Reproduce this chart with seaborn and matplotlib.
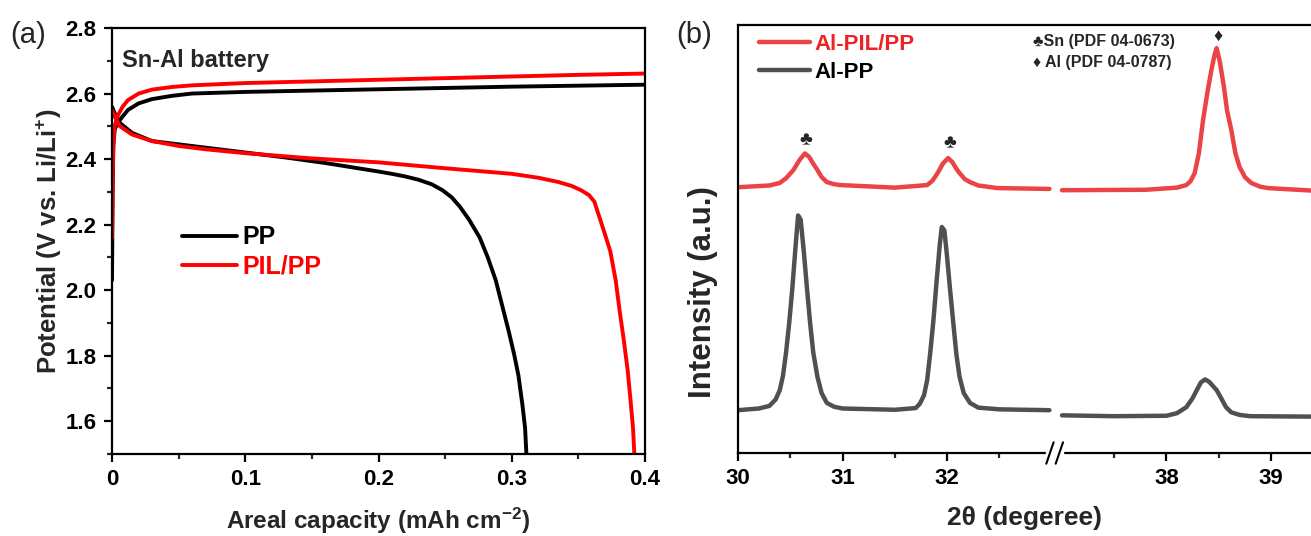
import matplotlib
matplotlib.use('Agg')
import matplotlib.pyplot as plt
import numpy as np
import pandas as pd
import seaborn as sns
from matplotlib.ticker import MultipleLocator, FixedLocator, NullLocator

# ---------------- (a) charge / discharge curves ----------------
cap_pp_charge = [0.0, 0.0005, 0.001, 0.002, 0.004, 0.008, 0.012, 0.02, 0.03, 0.045, 0.06,
                 0.1, 0.15, 0.2, 0.25, 0.3, 0.35, 0.4]
v_pp_charge = [2.03, 2.30, 2.44, 2.49, 2.51, 2.53, 2.55, 2.57, 2.583, 2.593, 2.60,
               2.605, 2.609, 2.613, 2.617, 2.621, 2.624, 2.627]
cap_pp_dis = [0.0, 0.002, 0.006, 0.015, 0.03, 0.05, 0.07, 0.1, 0.13, 0.16, 0.18, 0.2, 0.21,
              0.22, 0.23, 0.24, 0.248, 0.255, 0.261, 0.268, 0.276, 0.282, 0.288, 0.293,
              0.298, 0.302, 0.305, 0.308, 0.31, 0.311]
v_pp_dis = [2.56, 2.54, 2.51, 2.48, 2.455, 2.445, 2.435, 2.42, 2.405, 2.388, 2.375, 2.362, 2.355,
            2.347, 2.337, 2.323, 2.305, 2.283, 2.255, 2.215, 2.16, 2.10, 2.03, 1.95,
            1.87, 1.80, 1.74, 1.65, 1.58, 1.5]

cap_pil_charge = [0.0, 0.0005, 0.001, 0.002, 0.004, 0.008, 0.012, 0.02, 0.03, 0.045, 0.06,
                  0.1, 0.15, 0.2, 0.25, 0.3, 0.35, 0.4]
v_pil_charge = [2.16, 2.35, 2.45, 2.50, 2.53, 2.56, 2.58, 2.60, 2.612, 2.62, 2.625,
                2.632, 2.637, 2.642, 2.647, 2.652, 2.657, 2.661]
cap_pil_dis = [0.0, 0.002, 0.006, 0.015, 0.03, 0.05, 0.07, 0.1, 0.15, 0.2, 0.25, 0.3, 0.32,
               0.335, 0.345, 0.352, 0.358, 0.362, 0.366, 0.37, 0.374, 0.378, 0.381, 0.384,
               0.387, 0.389, 0.391, 0.392]
v_pil_dis = [2.55, 2.53, 2.50, 2.475, 2.455, 2.44, 2.43, 2.418, 2.402, 2.39, 2.372, 2.355, 2.343,
             2.33, 2.318, 2.305, 2.29, 2.27, 2.22, 2.17, 2.118, 2.03, 1.936, 1.85,
             1.755, 1.67, 1.58, 1.5]

# ---------------- (b) XRD patterns (a.u.) ----------------
tt_pp_low = [30.0, 30.2, 30.3, 30.36, 30.40, 30.43, 30.46, 30.49, 30.52, 30.55, 30.575, 30.60,
             30.63, 30.66, 30.69, 30.72, 30.76, 30.80, 30.85, 30.92, 31.0, 31.5,
             31.7, 31.74, 31.78, 31.81, 31.84, 31.87, 31.9, 31.93, 31.95, 31.975, 32.0,
             32.03, 32.06, 32.09, 32.12, 32.16, 32.22, 32.3, 32.5, 32.98]
i_pp_low = [10.0, 10.4, 11.0, 12.5, 14.7, 18.0, 23.5, 30.4, 38.5, 48.0, 55.5, 54.5,
            47.0, 38.5, 30.4, 23.5, 17.8, 14.0, 11.7, 10.8, 10.4, 10.1,
            10.5, 11.5, 13.5, 17.0, 23.5, 31.0, 40.0, 48.5, 52.8, 52.0, 46.0,
            38.0, 30.4, 23.0, 17.8, 14.0, 11.7, 10.6, 10.2, 10.0]
tt_pp_high = [37.0, 37.5, 38.0, 38.1, 38.19, 38.25, 38.29, 38.33, 38.37, 38.41, 38.48, 38.53,
              38.57, 38.62, 38.7, 38.8, 39.4]
i_pp_high = [8.8, 8.6, 8.7, 9.3, 10.7, 12.8, 14.7, 16.5, 17.2, 16.6, 14.7, 12.5,
             10.7, 9.5, 8.9, 8.6, 8.5]

tt_pil_low = [30.0, 30.3, 30.40, 30.46, 30.53, 30.59, 30.64, 30.68, 30.72, 30.76, 30.8, 30.85,
              30.92, 30.98, 31.5, 31.81, 31.86, 31.91, 31.96, 32.01, 32.05, 32.09, 32.12,
              32.17, 32.22, 32.3, 32.48, 32.98]
i_pil_low = [62.1, 62.5, 63.1, 64.2, 66.1, 68.5, 70.0, 69.2, 67.6, 66.1, 64.5, 63.3,
             62.8, 62.6, 62.0, 62.6, 63.6, 65.4, 67.6, 68.9, 68.0, 66.4, 65.4,
             64.0, 63.3, 62.5, 61.9, 61.7]
tt_pil_high = [37.0, 37.8, 38.1, 38.19, 38.23, 38.27, 38.31, 38.35, 38.39, 38.43, 38.46, 38.48,
               38.51, 38.55, 38.58, 38.62, 38.66, 38.70, 38.75, 38.81, 38.9, 38.97, 39.4]
i_pil_high = [61.4, 61.5, 62.0, 62.6, 63.5, 65.4, 70.0, 77.8, 84.0, 89.5, 93.0, 94.6,
              91.5, 85.5, 80.0, 75.5, 70.0, 66.8, 64.5, 63.1, 62.2, 61.9, 61.3]

# axis break: 33 .. 37 collapsed
break_lo = 33.0
break_shift = 3.9
xrd_ticks = [30, 31, 32, 38, 39]
xrd_minor = [30.5, 31.5, 32.5, 37.5, 38.5]


def squeeze(tt):
    tt = np.asarray(tt, dtype=float)
    return np.where(tt > break_lo + 0.5, tt - break_shift, tt)


sns.set_theme(style='ticks')
plt.rcParams['font.family'] = ['Liberation Sans', 'DejaVu Sans']
plt.rcParams['font.weight'] = 'bold'
plt.rcParams['mathtext.fontset'] = 'custom'
plt.rcParams['mathtext.rm'] = 'Liberation Sans:bold'
plt.rcParams['mathtext.default'] = 'rm'

fig = plt.figure(figsize=(13.11, 5.36), dpi=100)
W, H = 1311, 536
ax1 = fig.add_axes([112 / W, (H - 454) / H, 533 / W, 426 / H])
ax2 = fig.add_axes([738 / W, (H - 453) / H, 573 / W, 428 / H])

red = '#ff0000'
lw = 2.8

df = pd.DataFrame({'cap': cap_pp_charge, 'v': v_pp_charge})
sns.lineplot(data=df, x='cap', y='v', sort=False, estimator=None, color='black', lw=lw, ax=ax1,
             label='PP')
df = pd.DataFrame({'cap': cap_pp_dis, 'v': v_pp_dis})
sns.lineplot(data=df, x='cap', y='v', sort=False, estimator=None, color='black', lw=lw, ax=ax1)
df = pd.DataFrame({'cap': cap_pil_charge, 'v': v_pil_charge})
sns.lineplot(data=df, x='cap', y='v', sort=False, estimator=None, color=red, lw=lw, ax=ax1,
             label='PIL/PP')
df = pd.DataFrame({'cap': cap_pil_dis, 'v': v_pil_dis})
sns.lineplot(data=df, x='cap', y='v', sort=False, estimator=None, color=red, lw=lw, ax=ax1)

ax1.set_xlim(0, 0.4)
ax1.set_ylim(1.5, 2.8)
ax1.xaxis.set_minor_locator(MultipleLocator(0.05))
ax1.yaxis.set_major_locator(MultipleLocator(0.2))
ax1.yaxis.set_minor_locator(MultipleLocator(0.1))
ax1.set_xticks([0, 0.1, 0.2, 0.3, 0.4])
ax1.set_xticklabels(['0', '0.1', '0.2', '0.3', '0.4'])
ax1.set_xlabel('Areal capacity (mAh cm$^{-2}$)', fontsize=17.5, fontweight='bold', labelpad=11)
ax1.set_ylabel('Potential (V vs. Li/Li$^{+}$)', fontsize=18.5, fontweight='bold', labelpad=1)
ax1.text(0.019, 0.95, 'Sn-Al battery', transform=ax1.transAxes, fontsize=17, fontweight='bold',
         va='top', ha='left')
leg = ax1.legend(loc='upper left', bbox_to_anchor=(0.113, 0.56), frameon=False,
                 handlelength=2.2, handletextpad=0.2, labelspacing=0.2, borderaxespad=0,
                 labelcolor='linecolor', prop={'weight': 'bold', 'size': 18})
fig.text(10 / W, 1 - 35 / H, '(a)', fontsize=21, fontweight='normal', va='center')

# ---------------- (b) ----------------
xrd_red = '#ea4446'
xrd_gray = '#505050'
for tt, ii, col, lab in [(tt_pil_low, i_pil_low, xrd_red, 'Al-PIL/PP'),
                         (tt_pil_high, i_pil_high, xrd_red, None),
                         (tt_pp_low, i_pp_low, xrd_gray, 'Al-PP'),
                         (tt_pp_high, i_pp_high, xrd_gray, None)]:
    df = pd.DataFrame({'tt': squeeze(tt), 'i': ii})
    sns.lineplot(data=df, x='tt', y='i', sort=False, estimator=None, color=col, lw=3.2, ax=ax2,
                 label=lab)

ax2.set_xlim(30, 35.483)
ax2.set_ylim(0, 100)
ax2.xaxis.set_major_locator(FixedLocator(squeeze(xrd_ticks)))
ax2.xaxis.set_minor_locator(FixedLocator(squeeze(xrd_minor)))
ax2.set_xticklabels([str(t) for t in xrd_ticks])
ax2.yaxis.set_major_locator(NullLocator())
ax2.spines['right'].set_visible(False)
ax2.set_xlabel('2θ (degeree)', fontsize=19, fontweight='bold', labelpad=12)
ax2.set_ylabel('Intensity (a.u.)', fontsize=22.5, fontweight='bold')
ax2.yaxis.set_label_coords(-0.035, 0.375)
leg2 = ax2.legend(loc='upper left', bbox_to_anchor=(0.021, 1.0), frameon=False,
                  handlelength=2.3, handletextpad=0.2, labelspacing=0.3, borderaxespad=0,
                  prop={'weight': 'bold', 'size': 16})
for txt, col in zip(leg2.get_texts(), ['#ee2222', 'black']):
    txt.set_color(col)

# peak markers
ax2.text(30.65, 73.0, '♣', ha='center', va='center', fontsize=14)
ax2.text(32.03, 72.2, '♣', ha='center', va='center', fontsize=14)
ax2.text(38.49 - break_shift, 97.3, '♦', ha='center', va='center', fontsize=13)
ax2.text(0.515, 0.962, '♣Sn (PDF 04-0673)', transform=ax2.transAxes, fontsize=11.5,
         fontweight='bold', ha='left', va='center')
ax2.text(0.515, 0.913, '♦ Al (PDF 04-0787)', transform=ax2.transAxes, fontsize=11.5,
         fontweight='bold', ha='left', va='center')
fig.text(676 / W, 1 - 35 / H, '(b)', fontsize=21, fontweight='normal', va='center')

# break marks on the bottom spine
xb = break_lo + 0.03
trans = ax2.get_xaxis_transform()
ax2.add_patch(plt.Rectangle((xb - 0.08, -0.01), 0.16, 0.02, transform=trans, color='white',
                            clip_on=False, zorder=5))
for dx in (-0.045, 0.045):
    ax2.plot([xb + dx - 0.035, xb + dx + 0.035], [-0.025, 0.025], transform=trans, color='black',
             lw=1.5, clip_on=False, zorder=6)

for ax in (ax1, ax2):
    for s in ax.spines.values():
        s.set_linewidth(1.6)
        s.set_color('black')
    ax.tick_params(which='major', direction='out', length=6, width=1.6, labelsize=16,
                   colors='black', pad=5)
    ax.tick_params(which='minor', direction='out', length=3.5, width=1.6)
    ax.tick_params(top=False, right=False)
    for lab in ax.get_xticklabels() + ax.get_yticklabels():
        lab.set_fontweight('bold')

fig.savefig('out.png', dpi=100, facecolor='white')
